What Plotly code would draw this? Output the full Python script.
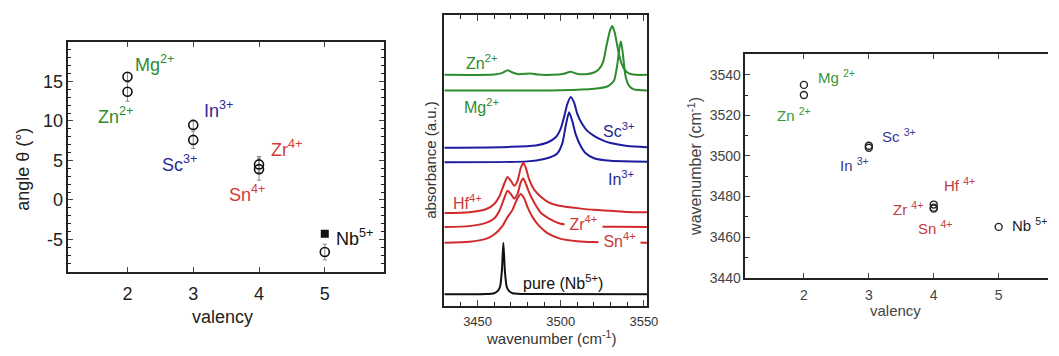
import plotly.graph_objects as go

W, H = 1059, 356
FONT = "Arial, Liberation Sans, sans-serif"
GREEN, BLUE, RED = "#2e8b2e", "#2a2a96", "#d23a3a"

# ---------------- Panel 1: angle vs valency ----------------
p1_ions = ["Mg", "Zn", "In", "Sc", "Zr", "Sn", "Nb"]
p1_valency = [2, 2, 3, 3, 4, 4, 5]
p1_angle = [15.6, 13.7, 9.5, 7.6, 4.5, 3.9, -6.6]
p1_err = [0.5, 1.2, 0.6, 1.1, 1.0, 1.4, 1.0]
p1_nb_sq_x = [5]
p1_nb_sq_y = [-4.3]

# ---------------- Panel 2: spectra ----------------
zn_wn = [3430, 3460, 3465, 3468, 3471, 3475, 3482, 3486, 3495, 3502, 3506, 3509, 3515, 3520, 3523, 3525.5, 3527.5, 3529.5, 3531, 3532.5, 3534.5, 3536.5, 3538.5, 3541, 3545, 3552]
zn_ab = [7.95, 7.96, 8.02, 8.11, 8.03, 7.97, 8.00, 7.96, 7.95, 7.99, 8.06, 8.00, 7.97, 8.03, 8.15, 8.40, 8.95, 9.45, 9.63, 9.40, 8.80, 8.35, 8.12, 8.00, 7.95, 7.95]
mg_wn = [3430, 3500, 3520, 3528, 3532, 3534, 3535.5, 3536.3, 3537.5, 3539, 3541, 3544, 3552]
mg_ab = [7.41, 7.42, 7.47, 7.55, 7.75, 8.30, 8.95, 9.10, 8.60, 7.90, 7.58, 7.45, 7.41]
sc_wn = [3430, 3470, 3485, 3492, 3497, 3500, 3502, 3504, 3506, 3508, 3510, 3513, 3516, 3520, 3525, 3530, 3540, 3552]
sc_ab = [5.44, 5.47, 5.52, 5.62, 5.80, 6.10, 6.50, 6.95, 7.19, 7.00, 6.60, 6.25, 6.02, 5.85, 5.70, 5.60, 5.50, 5.46]
in_wn = [3430, 3480, 3490, 3495, 3498, 3501, 3503, 3505, 3507, 3509, 3512, 3515, 3520, 3530, 3552]
in_ab = [4.94, 4.97, 5.05, 5.14, 5.25, 5.60, 6.20, 6.66, 6.35, 5.90, 5.50, 5.25, 5.08, 4.99, 4.96]
hf_wn = [3430, 3445, 3455, 3460, 3463, 3466, 3468, 3470, 3472, 3474, 3476, 3477.5, 3479, 3481, 3484, 3488, 3493, 3500, 3510, 3520, 3530, 3540, 3552]
hf_ab = [3.19, 3.22, 3.32, 3.50, 3.75, 4.20, 4.43, 4.30, 4.13, 4.30, 4.75, 4.92, 4.75, 4.35, 4.00, 3.75, 3.55, 3.43, 3.36, 3.30, 3.27, 3.23, 3.22]
zr_wn = [3430, 3445, 3455, 3460, 3463, 3466, 3468, 3470, 3472, 3474, 3476, 3477.5, 3479, 3481, 3484, 3488, 3493, 3500, 3510, 3520, 3535, 3552]
zr_ab = [2.71, 2.74, 2.85, 3.00, 3.25, 3.70, 3.96, 3.85, 3.69, 3.85, 4.25, 4.38, 4.20, 3.90, 3.55, 3.20, 3.00, 2.82, 2.76, 2.73, 2.72, 2.71]
sn_wn = [3430, 3445, 3455, 3460, 3465, 3468, 3471, 3474, 3476, 3478, 3480, 3483, 3487, 3492, 3500, 3510, 3520, 3552]
sn_ab = [2.17, 2.20, 2.30, 2.45, 2.75, 3.05, 3.30, 3.70, 3.85, 3.70, 3.40, 3.05, 2.75, 2.50, 2.30, 2.22, 2.19, 2.17]
pure_wn = [3430, 3455, 3460, 3462, 3463.5, 3464.6, 3465.5, 3466.4, 3467.5, 3469, 3471, 3474, 3480, 3552]
pure_ab = [0.39, 0.40, 0.43, 0.50, 0.65, 1.20, 2.17, 1.20, 0.65, 0.50, 0.43, 0.41, 0.40, 0.39]

# ---------------- Panel 3: wavenumber vs valency ----------------
p3_ions = ["Mg", "Zn", "Sc", "In", "Hf", "Zr", "Sn", "Nb"]
p3_valency = [2, 2, 3, 3, 4, 4, 4, 5]
p3_wavenumber = [3535, 3530, 3505, 3504, 3476, 3474.5, 3474, 3465]

fig = go.Figure()

# panel 1 traces
fig.add_trace(go.Scatter(
    x=p1_valency, y=p1_angle, mode="markers",
    error_y=dict(type="data", array=p1_err, color="#888", thickness=1, width=2),
    marker=dict(symbol="circle-open", size=9, color="#111", line=dict(width=1.6)),
    xaxis="x", yaxis="y", showlegend=False))
fig.add_trace(go.Scatter(
    x=p1_nb_sq_x, y=p1_nb_sq_y, mode="markers",
    marker=dict(symbol="square", size=8, color="#111"),
    xaxis="x", yaxis="y", showlegend=False))

# panel 2 traces
spectra = [(zn_wn, zn_ab, GREEN), (mg_wn, mg_ab, GREEN), (sc_wn, sc_ab, "#1c1ca0"),
           (in_wn, in_ab, "#1c1ca0"), (hf_wn, hf_ab, "#d22a2a"), (zr_wn, zr_ab, "#d22a2a"),
           (sn_wn, sn_ab, "#d22a2a"), (pure_wn, pure_ab, "#111")]
for wn, ab, c in spectra:
    fig.add_trace(go.Scatter(x=wn, y=ab, mode="lines", line=dict(color=c, width=2, shape="spline", smoothing=0.6),
                             xaxis="x2", yaxis="y2", showlegend=False))

# panel 3 traces
fig.add_trace(go.Scatter(
    x=p3_valency, y=p3_wavenumber, mode="markers",
    marker=dict(symbol="circle-open", size=7, color="#222", line=dict(width=1.4)),
    xaxis="x3", yaxis="y3", showlegend=False))

def px2paper(px, py):
    return px / W, 1 - py / H

d1x = [69 / W, 388 / W]; d1y = [1 - 278 / H, 1 - 43 / H]
d2x = [449 / W, 654 / W]; d2y = [1 - 312.7 / H, 1 - 15.7 / H]
d3x = [753.3 / W, 1.0]; d3y = [1 - 284 / H, 1 - 55.7 / H]

ax_common = dict(showline=True, linecolor="#222", linewidth=1.5, showgrid=False, zeroline=False, ticks="inside")

fig.update_layout(
    width=W, height=H, margin=dict(l=0, r=0, t=0, b=0),
    paper_bgcolor="white", plot_bgcolor="white",
    font=dict(family=FONT, color="#222"),
    xaxis=dict(domain=d1x, anchor="y", range=[1.1, 5.9], tickvals=[2, 3, 4, 5], mirror="allticks",
               ticklen=5, ticklabelstandoff=5, tickfont=dict(size=18, color="#222"), **ax_common),
    yaxis=dict(domain=d1y, anchor="x", range=[-9.1, 20], tickvals=[-5, 0, 5, 10, 15],
               ticktext=["-5", "0", "5", "10", "15"], mirror="allticks", ticklen=5,
               minor=dict(dtick=1, ticklen=3, ticks="inside", tickcolor="#222"),
               tickfont=dict(size=18, color="#222"), **ax_common),
    xaxis2=dict(domain=d2x, anchor="y2", range=[3430, 3552], tickvals=[3450, 3500, 3550], mirror="allticks",
                ticklen=6, ticklabelstandoff=3, minor=dict(dtick=10, ticklen=4, ticks="inside", tickcolor="#222"),
                tickfont=dict(size=13, color="#333"), **ax_common),
    yaxis2=dict(domain=d2y, anchor="x2", range=[0, 10], showticklabels=False, mirror=True,
                showline=True, linecolor="#222", linewidth=1.5, showgrid=False, zeroline=False, ticks=""),
    xaxis3=dict(domain=d3x, anchor="y3", range=[1.1, 1.1 + (W - 753.3) / 65.6], tickvals=[2, 3, 4, 5],
                mirror="allticks", ticklen=5, ticklabelstandoff=4, tickfont=dict(size=14, color="#444"), **ax_common),
    yaxis3=dict(domain=d3y, anchor="x3", range=[3440, 3550], tickvals=[3440, 3460, 3480, 3500, 3520, 3540],
                ticklen=5, minor=dict(dtick=10, ticklen=3, ticks="inside", tickcolor="#222"),
                tickfont=dict(size=14, color="#444"), **ax_common),
)

ann = []
def lab(text, x, y, xref, yref, color, size, bg=None, xanchor="left"):
    d = dict(text=text, x=x, y=y, xref=xref, yref=yref, showarrow=False, xanchor=xanchor, yanchor="middle",
             font=dict(family=FONT, size=size, color=color))
    if bg:
        d.update(bgcolor=bg, borderpad=0)
    ann.append(d)

# panel 1 labels
lab("Mg<sup>2+</sup>", 2.09, 17.3, "x", "y", GREEN, 18)
lab("Zn<sup>2+</sup>", 1.52, 10.7, "x", "y", GREEN, 18)
lab("In<sup>3+</sup>", 3.13, 11.45, "x", "y", BLUE, 18)
lab("Sc<sup>3+</sup>", 2.50, 4.64, "x", "y", BLUE, 18)
lab("Zr<sup>4+</sup>", 4.15, 6.5, "x", "y", RED, 18)
lab("Sn<sup>4+</sup>", 3.52, 0.8, "x", "y", RED, 18)
lab("Nb<sup>5+</sup>", 5.14, -4.7, "x", "y", "#111", 18)

# panel 2 labels
lab("Zn<sup>2+</sup>", 3442, 8.41, "x2", "y2", GREEN, 16)
lab("Mg<sup>2+</sup>", 3440.8, 6.89, "x2", "y2", GREEN, 16)
lab("Sc<sup>3+</sup>", 3524, 6.05, "x2", "y2", "#2a2a96", 16)
lab("In<sup>3+</sup>", 3527, 4.40, "x2", "y2", "#2a2a96", 16)
lab("Hf<sup>4+</sup>", 3434.3, 3.56, "x2", "y2", "#c83a3a", 16)
lab(" Zr<sup>4+</sup> ", 3502, 2.85, "x2", "y2", "#c83a3a", 16, bg="white")
lab(" Sn<sup>4+</sup> ", 3522.5, 2.25, "x2", "y2", "#c83a3a", 16, bg="white")
lab("pure (Nb<sup>5+</sup>)", 3476, 0.80, "x2", "y2", "#111", 16)

# panel 3 labels
lab("Mg <sup>2+</sup>", 2.19, 3539, "x3", "y3", "#3a963a", 15)
lab("Zn <sup>2+</sup>", 1.55, 3520.3, "x3", "y3", "#3a963a", 15)
lab("Sc <sup>3+</sup>", 3.17, 3510.2, "x3", "y3", "#3a3a96", 15)
lab("In <sup>3+</sup>", 2.53, 3495.8, "x3", "y3", "#3a3a96", 15)
lab("Hf <sup>4+</sup>", 4.13, 3486, "x3", "y3", "#c04040", 15)
lab("Zr <sup>4+</sup>", 3.34, 3474.1, "x3", "y3", "#c04040", 15)
lab("Sn <sup>4+</sup>", 3.73, 3464.5, "x3", "y3", "#c04040", 15)
lab("Nb <sup>5+</sup>", 5.17, 3466, "x3", "y3", "#222", 15)

# axis titles
def title(text, px, py, size, color, angle=0):
    x, y = px2paper(px, py)
    ann.append(dict(text=text, x=x, y=y, xref="paper", yref="paper", showarrow=False,
                    xanchor="center", yanchor="middle", textangle=angle,
                    font=dict(family=FONT, size=size, color=color)))

title("angle θ (°)", 23, 173, 18, "#222", -90)
title("valency", 225, 324, 18, "#222")
title("absorbance (a.u.)", 435, 163, 15, "#333", -90)
title("wavenumber (cm<sup>-1</sup>)", 557, 345, 15, "#333")
title("wavenumber (cm<sup>-1</sup>)", 702, 170, 16, "#444", -90)
title("valency", 905, 318, 15, "#444")

fig.update_layout(annotations=ann)
fig.write_html("out.html")
